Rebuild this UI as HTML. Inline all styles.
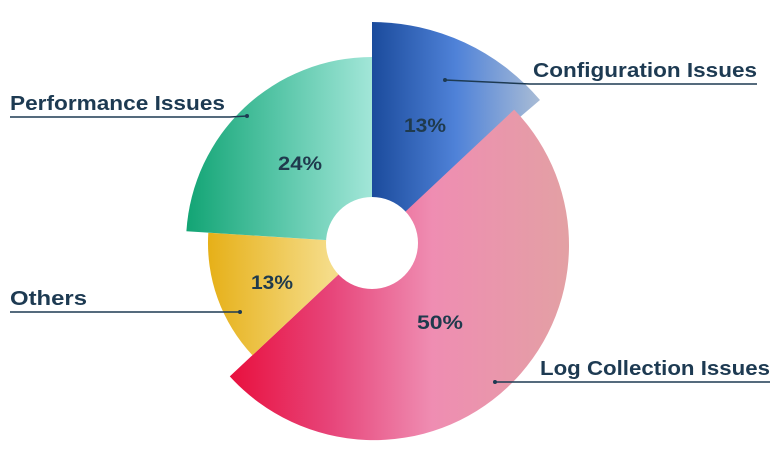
<!DOCTYPE html>
<html><head><style>
body{margin:0;background:#fff;}
svg{display:block;}
text{font-family:"Liberation Sans",sans-serif;font-weight:bold;}
</style></head><body>
<svg width="781" height="460" viewBox="0 0 781 460">
<defs>
<linearGradient id="gc" x1="372" y1="0" x2="540" y2="0" gradientUnits="userSpaceOnUse"><stop offset="0" stop-color="#1b4b9c"/><stop offset="0.5" stop-color="#4f82d8"/><stop offset="1" stop-color="#a9bcd6"/></linearGradient>
<linearGradient id="gl" x1="230" y1="0" x2="567" y2="0" gradientUnits="userSpaceOnUse"><stop offset="0" stop-color="#e8103e"/><stop offset="0.3" stop-color="#e7457a"/><stop offset="0.6" stop-color="#ef8db2"/><stop offset="1" stop-color="#e3a0a4"/></linearGradient>
<linearGradient id="go" x1="208" y1="0" x2="330" y2="0" gradientUnits="userSpaceOnUse"><stop offset="0" stop-color="#e6b018"/><stop offset="1" stop-color="#f5dc88"/></linearGradient>
<linearGradient id="gp" x1="186" y1="0" x2="372" y2="0" gradientUnits="userSpaceOnUse"><stop offset="0" stop-color="#12a474"/><stop offset="0.5" stop-color="#58c6a8"/><stop offset="1" stop-color="#a2e6d8"/></linearGradient>
</defs>
<path d="M372,243 L372,22 A221,221 0 0 1 540,100 Z" fill="url(#gc)"/>
<path d="M372,243 L514.2,109.6 A195,195 0 1 1 229.8,376.4 Z" fill="url(#gl)"/>
<path d="M372,243 L252.4,355.2 A164,164 0 0 1 208.3,232.7 Z" fill="url(#go)"/>
<path d="M372,243 L186.4,231.3 A186,186 0 0 1 372,57 Z" fill="url(#gp)"/>
<circle cx="372" cy="243" r="46" fill="#fff"/>
<g fill="#1f3a4d" font-size="19" text-anchor="middle">
<text x="425" y="132" textLength="42" lengthAdjust="spacingAndGlyphs">13%</text>
<text x="300" y="170" textLength="44" lengthAdjust="spacingAndGlyphs">24%</text>
<text x="272" y="289" textLength="42" lengthAdjust="spacingAndGlyphs">13%</text>
<text x="440" y="329" textLength="46" lengthAdjust="spacingAndGlyphs">50%</text>
</g>
<g stroke="#1d3a52" stroke-width="1.5" fill="none">
<polyline points="445,80 530,84 757,84"/>
<polyline points="247,116 230,117 10,117"/>
<polyline points="240,312 10,312"/>
<polyline points="495,382 520,382 770,382"/>
</g>
<g fill="#1d3a52"><circle cx="445" cy="80" r="2"/><circle cx="247" cy="116" r="2"/><circle cx="240" cy="312" r="2"/><circle cx="495" cy="382" r="2"/></g>
<g fill="#1d3a52" font-size="20">
<text x="533" y="77" textLength="224" lengthAdjust="spacingAndGlyphs">Configuration Issues</text>
<text x="10" y="110" textLength="215" lengthAdjust="spacingAndGlyphs">Performance Issues</text>
<text x="10" y="305" textLength="77" lengthAdjust="spacingAndGlyphs">Others</text>
<text x="540" y="375" textLength="230" lengthAdjust="spacingAndGlyphs">Log Collection Issues</text>
</g>
</svg>
</body></html>
